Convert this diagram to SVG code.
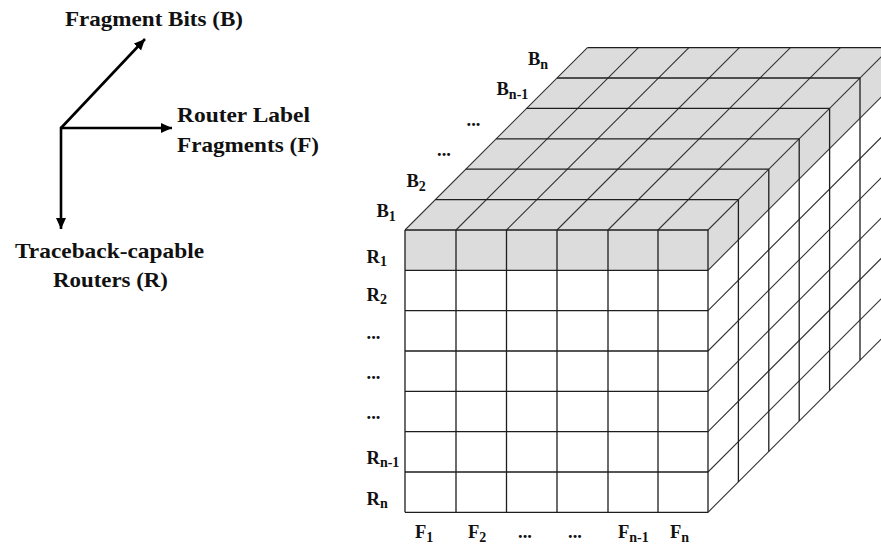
<svg xmlns="http://www.w3.org/2000/svg" width="881" height="552" viewBox="0 0 881 552">
<style>
  text { font-family: "Liberation Serif", "Times New Roman", serif; font-weight: bold; fill: #111; }
  .ax { font-size: 21.5px; }
  .lb { font-size: 18.5px; }
  .sub { font-size: 14px; }
  .axis { stroke: #000; stroke-width: 2.6; fill: none; }
  .grid { stroke: #1e1e1e; stroke-width: 1.3; fill: none; }
  .diag { stroke: #333; stroke-width: 1.1; fill: none; }
  .grey { fill: #dcdcdc; }
  .white { fill: #ffffff; }
</style>
<defs>
  <marker id="ah" markerUnits="userSpaceOnUse" markerWidth="14" markerHeight="12" refX="11" refY="5" orient="auto">
    <path d="M0,0 L11,5 L0,10 Z" fill="#000"/>
  </marker>
</defs>
<rect width="881" height="552" fill="#fff"/>

<!-- axes (connectors) -->
<g id="axes">
  <line class="axis" x1="61" y1="128" x2="145" y2="39" marker-end="url(#ah)"/>
  <line class="axis" x1="60" y1="128" x2="172" y2="128" marker-end="url(#ah)"/>
  <line class="axis" x1="61" y1="127" x2="61" y2="229" marker-end="url(#ah)"/>
</g>

<g id="label-B"><text class="ax" x="65" y="25.5" textLength="178" lengthAdjust="spacingAndGlyphs">Fragment Bits (B)</text></g>
<g id="label-F">
  <text class="ax" x="177" y="121.5" textLength="133" lengthAdjust="spacingAndGlyphs">Router Label</text>
  <text class="ax" x="177" y="151.5" textLength="142" lengthAdjust="spacingAndGlyphs">Fragments (F)</text>
</g>
<g id="label-R">
  <text class="ax" x="15" y="258" textLength="189" lengthAdjust="spacingAndGlyphs">Traceback-capable</text>
  <text class="ax" x="53" y="286.5" textLength="115" lengthAdjust="spacingAndGlyphs">Routers (R)</text>
</g>

<!-- cube -->
<g id="cube">
  <!-- faces -->
  <polygon class="grey" points="405,230 708,230 890.4,47.6 587.4,47.6"/>
  <polygon class="white" points="708,230 890.4,47.6 890.4,329.9 708,512.3"/>
  <polygon class="grey" points="708,230 890.4,47.6 890.4,87.9 708,270.3"/>
  <rect class="white" x="405" y="230" width="303" height="282.3"/>
  <rect class="grey" x="405" y="230" width="303" height="40.3"/>

  <!-- top face diagonals -->
  <path class="diag" d="M405,230 L587.4,47.6 M456,230 L638.4,47.6 M506.5,230 L688.9,47.6 M557,230 L739.4,47.6 M608,230 L790.4,47.6 M658,230 L840.4,47.6 M708,230 L890.4,47.6"/>
  <!-- right face diagonals -->
  <path class="diag" d="M708,270.3 L890.4,87.9 M708,310.6 L890.4,128.2 M708,351 L890.4,168.6 M708,391.3 L890.4,208.9 M708,431.6 L890.4,249.2 M708,472 L890.4,289.6 M708,512.3 L890.4,329.9"/>
  <!-- top face horizontals -->
  <path class="grid" d="M435.4,199.6 H738.4 M465.8,169.2 H768.8 M496.2,138.8 H799.2 M526.6,108.4 H829.6 M557,78 H860 M587.4,47.6 H890.4"/>
  <!-- right face verticals -->
  <path class="grid" d="M738.4,199.6 V481.9 M768.8,169.2 V451.5 M799.2,138.8 V421.1 M829.6,108.4 V390.7 M860,78 V360.3 M890.4,47.6 V329.9"/>
  <!-- front face grid -->
  <path class="grid" d="M405,230 H708 M405,270.3 H708 M405,310.6 H708 M405,351 H708 M405,391.3 H708 M405,431.6 H708 M405,472 H708 M405,512.3 H708"/>
  <path class="grid" d="M405,230 V512.3 M456,230 V512.3 M506.5,230 V512.3 M557,230 V512.3 M608,230 V512.3 M658,230 V512.3 M708,230 V512.3"/>
</g>

<!-- B labels -->
<g id="b-labels">
  <text class="lb" x="528" y="65">B<tspan class="sub" dy="4">n</tspan></text>
  <text class="lb" x="496.5" y="95">B<tspan class="sub" dy="4">n-1</tspan></text>
  <text class="lb" x="466.5" y="126">...</text>
  <text class="lb" x="437" y="156">...</text>
  <text class="lb" x="406.5" y="186.5">B<tspan class="sub" dy="4">2</tspan></text>
  <text class="lb" x="376.5" y="216.5">B<tspan class="sub" dy="4">1</tspan></text>
</g>

<!-- R labels -->
<g id="r-labels">
  <text class="lb" x="366.5" y="263">R<tspan class="sub" dy="3">1</tspan></text>
  <text class="lb" x="366.5" y="301">R<tspan class="sub" dy="3">2</tspan></text>
  <text class="lb" x="366.5" y="339">...</text>
  <text class="lb" x="366.5" y="379">...</text>
  <text class="lb" x="366.5" y="419">...</text>
  <text class="lb" x="366.5" y="464">R<tspan class="sub" dy="3">n-1</tspan></text>
  <text class="lb" x="366.5" y="505">R<tspan class="sub" dy="3">n</tspan></text>
</g>

<!-- F labels -->
<g id="f-labels">
  <text class="lb" x="415" y="538">F<tspan class="sub" dy="4">1</tspan></text>
  <text class="lb" x="468" y="538">F<tspan class="sub" dy="4">2</tspan></text>
  <text class="lb" x="518" y="538">...</text>
  <text class="lb" x="568" y="538">...</text>
  <text class="lb" x="618" y="538">F<tspan class="sub" dy="4">n-1</tspan></text>
  <text class="lb" x="670" y="538">F<tspan class="sub" dy="4">n</tspan></text>
</g>
</svg>
